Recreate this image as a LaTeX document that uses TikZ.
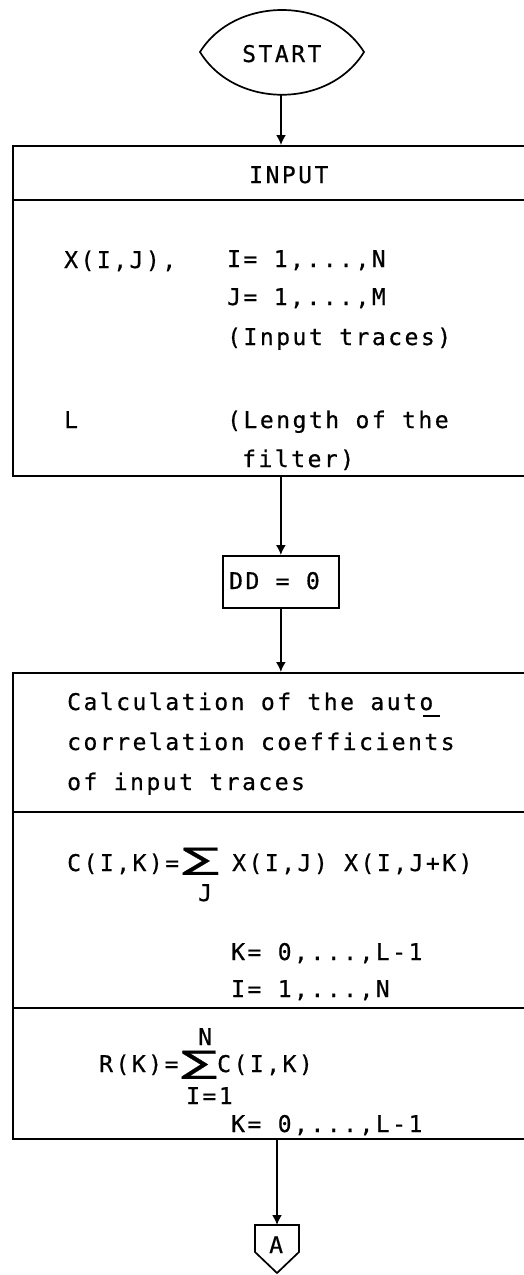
\documentclass[tikz,border=0pt]{standalone}
\usepackage{fontspec}
\usepackage{graphicx}
\usetikzlibrary{arrows.meta}
\newfontfamily\ocrfont[LetterSpace=10.9,FakeBold=0.6]{DejaVu Sans Mono}
\newfontfamily\sumfont[FakeBold=0.5]{DejaVu Sans}
\begin{document}
\begin{tikzpicture}[x=1pt,y=-1pt,
  txt/.style={font=\ocrfont\fontsize{23pt}{40pt}\selectfont, inner sep=0pt, anchor=base west},
  frame/.style={draw, line width=1.7pt, inner sep=0pt},
  rule/.style={line width=1.7pt},
  conn/.style={line width=1.7pt, -{Latex[length=10pt,width=10pt]}},
  sumsign/.style={inner sep=0pt, anchor=south west}]
\useasboundingbox (0,0) rectangle (524,1275);
\clip (0,0) rectangle (524,1275);

% START terminal
\draw[rule] (200,52) .. controls (235,-4) and (329,-4) .. (364,52)
            .. controls (329,109) and (235,109) .. (200,52) -- cycle;
\node[txt] (start) at (242,62) {START};
\coordinate (startbot) at (281,95);

% INPUT box
\node[frame, anchor=north west, minimum width=530pt, minimum height=330pt] (inbox) at (12,145) {};
\draw[rule] (12,200) -- (545,200);
\node[txt] (intitle) at (249,183) {INPUT};
\node[txt] (x1) at (64,268) {X(I,J),};
\node[txt] (x2) at (227,267) {I= 1,...,N};
\node[txt] (x3) at (227,305) {J= 1,...,M};
\node[txt] (x4) at (227,345) {(Input traces)};
\node[txt] (x5) at (64,428) {L};
\node[txt] (x6) at (227,428) {(Length of the};
\node[txt] (x7) at (242,467) {filter)};

% DD = 0 box
\node[frame, anchor=north west, minimum width=116pt, minimum height=52pt] (ddbox) at (222,555) {};
\node[txt] (ddtxt) at (229,589) {DD = 0};

% calculation box
\node[frame, anchor=north west, minimum width=530pt, minimum height=466pt] (calcbox) at (12,672) {};
\draw[rule] (12,812) -- (545,812);
\draw[rule] (12,1008) -- (545,1008);
\node[txt] (c1) at (67,710) {Calculation of the auto};
\draw[line width=1.3pt] (423,716) -- (440,716);
\node[txt] (c2) at (67,750) {correlation coefficients};
\node[txt] (c3) at (67,790) {of input traces};

\node[txt] (c4) at (67,871) {C(I,K)=};
\node[sumsign] (sum1) at (182,875) {\resizebox*{37pt}{27pt}{\sumfont ∑}};
\node[txt] (c5) at (232,871) {X(I,J) X(I,J+K)};
\node[txt] (c6) at (198,901) {J};
\node[txt] (c7) at (231,960) {K= 0,...,L-1};
\node[txt] (c8) at (231,997) {I= 1,...,N};

\node[txt] (r0) at (198,1045) {N};
\node[txt] (r1) at (99,1072) {R(K)=};
\node[sumsign] (sum2) at (181,1079) {\resizebox*{36pt}{28pt}{\sumfont ∑}};
\node[txt] (r2) at (217,1072) {C(I,K)};
\node[txt] (r3) at (186,1104) {I=1};
\node[txt] (r4) at (231,1132) {K= 0,...,L-1};

% off-page connector A
\draw[rule] (255,1225) -- (299,1225) -- (299,1252) -- (277,1273) -- (255,1252) -- cycle;
\node[txt] (atxt) at (269,1253) {A};
\coordinate (atop) at (277,1225);

% connectors
\draw[conn] (startbot) -- (startbot |- inbox.north);
\draw[conn] (ddbox.north |- inbox.south) -- (ddbox.north);
\draw[conn] (ddbox.south) -- (ddbox.south |- calcbox.north);
\draw[conn] (atop |- calcbox.south) -- (atop);
\end{tikzpicture}
\end{document}
